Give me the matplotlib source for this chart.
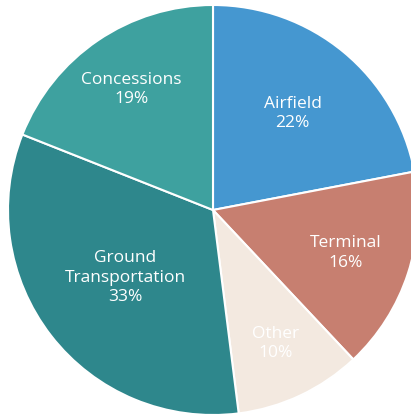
import numpy as np
import matplotlib.pyplot as plt

# Datos del gráfico (en sentido horario desde arriba)
Categorias = ['Airfield', 'Terminal', 'Other', 'Ground\nTransportation', 'Concessions']
Porcentajes = [22, 16, 10, 33, 19]
Colores = ['#4597d0', '#c77f70', '#f3e9e0', '#2e878c', '#3ea19f']

# distancia radial de cada etiqueta (fracción del radio)
DistEtiquetas = [0.61, 0.68, 0.72, 0.54, 0.71]

plt.rcParams['font.family'] = ['Open Sans', 'DejaVu Sans']

fig = plt.figure(figsize=(4.11, 4.17), dpi=100)
ax = fig.add_axes([0, 0, 1, 1])

wedges, _ = ax.pie(Porcentajes, colors=Colores, startangle=90, counterclock=False,
                   wedgeprops=dict(edgecolor='white', linewidth=1.5))

for w, nombre, pct, d in zip(wedges, Categorias, Porcentajes, DistEtiquetas):
    ang = np.deg2rad((w.theta1 + w.theta2) / 2)
    ax.text(d * np.cos(ang), d * np.sin(ang), f'{nombre}\n{pct}%',
            ha='center', va='center', color='white', fontsize=12.5, linespacing=1.3)

# centro del pastel en (213, 210) px, radio 205 px
R = 205.0
ax.set_xlim(-213 / R, (411 - 213) / R)
ax.set_ylim(-(417 - 210) / R, 210 / R)
ax.set_aspect('auto')
ax.axis('off')

plt.savefig('out.png', dpi=100)
